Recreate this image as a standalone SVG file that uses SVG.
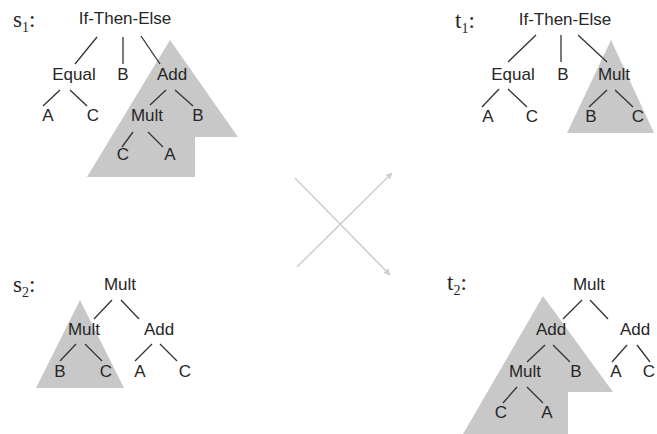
<svg xmlns="http://www.w3.org/2000/svg" width="657" height="434" viewBox="0 0 657 434">
<defs>
<style>
.n{font-family:"Liberation Sans",Arial,sans-serif;font-size:17px;fill:#262626;text-anchor:middle}
.lb{font-family:"Liberation Serif","Times New Roman",serif;font-size:23px;fill:#262626}
.sub{font-size:14px}
.e{stroke:#333;stroke-width:1.3;fill:none}
.sh{fill:#c8c8c8;stroke:none}
.ar{stroke:#cfcfcf;stroke-width:1.6;fill:none}
</style>
<marker id="ah" viewBox="0 0 10 10" refX="9" refY="5" markerWidth="7" markerHeight="7" orient="auto" markerUnits="userSpaceOnUse">
<path d="M0,0 L10,5 L0,10 z" fill="#cfcfcf"/>
</marker>
</defs>
<rect width="657" height="434" fill="#fff"/>

<!-- shaded subtrees -->
<g id="shade-s1"><polygon class="sh" points="170,40 238,137 195,137 195,177 87,177"/></g>
<g id="shade-t1"><polygon class="sh" points="611,40 654,133 567,133"/></g>
<g id="shade-s2"><polygon class="sh" points="80,300 124,388 36,388"/></g>
<g id="shade-t2"><polygon class="sh" points="543,296 613,392 568,392 568,434 463,434"/></g>

<!-- labels -->
<g id="label-s1"><text class="lb" x="13" y="27">s<tspan class="sub" dy="5">1</tspan><tspan dy="-5">:</tspan></text></g>
<g id="label-t1"><text class="lb" x="455" y="28">t<tspan class="sub" dy="5">1</tspan><tspan dy="-5">:</tspan></text></g>
<g id="label-s2"><text class="lb" x="13" y="292">s<tspan class="sub" dy="5">2</tspan><tspan dy="-5">:</tspan></text></g>
<g id="label-t2"><text class="lb" x="447" y="290">t<tspan class="sub" dy="5">2</tspan><tspan dy="-5">:</tspan></text></g>

<!-- connectors -->
<g id="connectors">
<!-- s1 -->
<line class="e" x1="97" y1="37" x2="75" y2="64"/>
<line class="e" x1="123" y1="37" x2="123" y2="64"/>
<line class="e" x1="141" y1="36" x2="160" y2="64"/>
<line class="e" x1="60" y1="90" x2="43" y2="106"/>
<line class="e" x1="70" y1="90" x2="87" y2="106"/>
<line class="e" x1="166" y1="90" x2="150" y2="105"/>
<line class="e" x1="175" y1="90" x2="193" y2="106"/>
<line class="e" x1="133" y1="132" x2="122" y2="147"/>
<line class="e" x1="148" y1="132" x2="163" y2="147"/>
<!-- t1 -->
<line class="e" x1="536" y1="35" x2="508" y2="62"/>
<line class="e" x1="561" y1="35" x2="561" y2="62"/>
<line class="e" x1="578" y1="35" x2="607" y2="62"/>
<line class="e" x1="499" y1="89" x2="482" y2="107"/>
<line class="e" x1="508" y1="89" x2="527" y2="107"/>
<line class="e" x1="607" y1="90" x2="589" y2="107"/>
<line class="e" x1="615" y1="90" x2="633" y2="107"/>
<!-- s2 -->
<line class="e" x1="112" y1="300" x2="94" y2="319"/>
<line class="e" x1="121" y1="300" x2="139" y2="319"/>
<line class="e" x1="76" y1="344" x2="60" y2="361"/>
<line class="e" x1="85" y1="344" x2="102" y2="361"/>
<line class="e" x1="152" y1="344" x2="135" y2="361"/>
<line class="e" x1="160" y1="344" x2="177" y2="361"/>
<!-- t2 -->
<line class="e" x1="582" y1="300" x2="563" y2="319"/>
<line class="e" x1="590" y1="300" x2="608" y2="319"/>
<line class="e" x1="545" y1="345" x2="527" y2="362"/>
<line class="e" x1="553" y1="345" x2="570" y2="362"/>
<line class="e" x1="627" y1="345" x2="612" y2="362"/>
<line class="e" x1="637" y1="345" x2="650" y2="362"/>
<line class="e" x1="517" y1="387" x2="503" y2="403"/>
<line class="e" x1="527" y1="387" x2="543" y2="403"/>
<!-- crossover arrows -->
<line class="ar" x1="295" y1="178" x2="390" y2="275" marker-end="url(#ah)"/>
<line class="ar" x1="297" y1="267" x2="392" y2="173" marker-end="url(#ah)"/>
</g>

<!-- s1 nodes -->
<g id="s1-ite"><text class="n" x="125" y="24">If-Then-Else</text></g>
<g id="s1-equal"><text class="n" x="74" y="80">Equal</text></g>
<g id="s1-b"><text class="n" x="123" y="80">B</text></g>
<g id="s1-add"><text class="n" x="172" y="80">Add</text></g>
<g id="s1-a"><text class="n" x="48" y="121">A</text></g>
<g id="s1-c"><text class="n" x="93" y="121">C</text></g>
<g id="s1-mult"><text class="n" x="147" y="121">Mult</text></g>
<g id="s1-b2"><text class="n" x="198" y="121">B</text></g>
<g id="s1-c2"><text class="n" x="123" y="160">C</text></g>
<g id="s1-a2"><text class="n" x="170" y="160">A</text></g>

<!-- t1 nodes -->
<g id="t1-ite"><text class="n" x="565" y="25">If-Then-Else</text></g>
<g id="t1-equal"><text class="n" x="513" y="80">Equal</text></g>
<g id="t1-b"><text class="n" x="563" y="80">B</text></g>
<g id="t1-mult"><text class="n" x="614" y="80">Mult</text></g>
<g id="t1-a"><text class="n" x="488" y="122">A</text></g>
<g id="t1-c"><text class="n" x="532" y="122">C</text></g>
<g id="t1-b2"><text class="n" x="591" y="122">B</text></g>
<g id="t1-c2"><text class="n" x="638" y="122">C</text></g>

<!-- s2 nodes -->
<g id="s2-mult"><text class="n" x="120" y="290">Mult</text></g>
<g id="s2-mult2"><text class="n" x="84" y="335">Mult</text></g>
<g id="s2-add"><text class="n" x="159" y="335">Add</text></g>
<g id="s2-b"><text class="n" x="60" y="377">B</text></g>
<g id="s2-c"><text class="n" x="106" y="377">C</text></g>
<g id="s2-a"><text class="n" x="140" y="377">A</text></g>
<g id="s2-c2"><text class="n" x="185" y="377">C</text></g>

<!-- t2 nodes -->
<g id="t2-mult"><text class="n" x="589" y="290">Mult</text></g>
<g id="t2-add"><text class="n" x="551" y="335">Add</text></g>
<g id="t2-add2"><text class="n" x="635" y="335">Add</text></g>
<g id="t2-mult2"><text class="n" x="525" y="377">Mult</text></g>
<g id="t2-b"><text class="n" x="576" y="377">B</text></g>
<g id="t2-a"><text class="n" x="616" y="377">A</text></g>
<g id="t2-c"><text class="n" x="649" y="377">C</text></g>
<g id="t2-c2"><text class="n" x="501" y="418">C</text></g>
<g id="t2-a2"><text class="n" x="547" y="418">A</text></g>
</svg>
